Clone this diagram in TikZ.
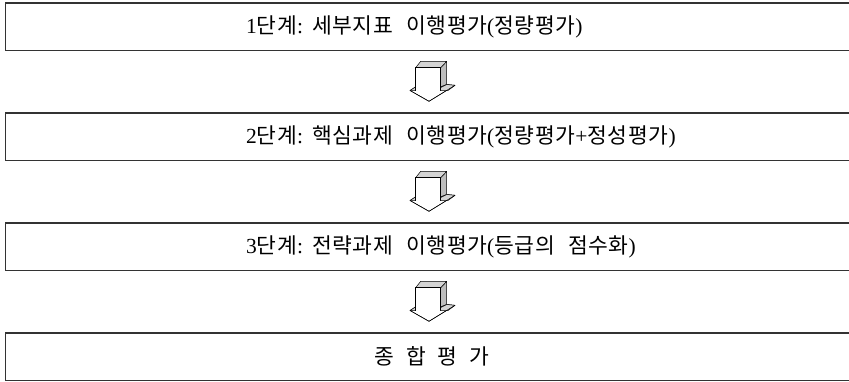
\documentclass[tikz,border=0pt]{standalone}
\usepackage{fontspec}
\setmainfont{Liberation Serif}
\newfontfamily\kr[LetterSpace=3]{Noto Sans CJK KR}
\newcommand{\colgap}{\hspace{9pt}}
\newcommand{\wordgap}{\hspace{13pt}}
\definecolor{boxline}{HTML}{333333}
\definecolor{facegray}{HTML}{D4D4D4}
\definecolor{sidegray}{HTML}{BDBDBD}
\tikzset{
  stagebox/.style={draw=boxline, line width=1.4pt},
  stagetext/.style={font=\fontsize{21.5}{25}\selectfont, inner sep=0pt, anchor=west},
  arrowline/.style={draw=black, line width=0.5pt, line join=round},
  pics/downarrow/.style={code={
    % side face
    \filldraw[arrowline, fill=sidegray] (440.7,67.7) -- (446.7,61.3) -- (446.7,84.5) -- (440.7,87.5) -- cycle;
    % top face
    \filldraw[arrowline, fill=facegray] (415.7,67.7) -- (420.7,61.3) -- (446.7,61.3) -- (440.7,67.7) -- cycle;
    % head surfaces
    \filldraw[arrowline, fill=white] (410,90.5) -- (415.7,86.8) -- (440.7,86.8) -- (446.7,84.5) -- (455,85.3) -- (429,101.3) -- cycle;
    \filldraw[arrowline, fill=facegray] (410,90.5) -- (415.7,86.8) -- (415.7,90.5) -- cycle;
    \filldraw[arrowline, fill=facegray] (440.7,87.5) -- (446.7,84.5) -- (455,85.3) -- (448,90.5) -- (440.7,90.5) -- cycle;
    % front face of shaft
    \filldraw[arrowline, fill=white] (415.7,67.7) rectangle (440.7,90.5);
    \draw[white, line width=0.8pt] (416,90.5) -- (440.4,90.5);
    \draw[arrowline] (410,90.5) -- (429,101.3) -- (455,85.3);
  }}
}
\begin{document}
\begin{tikzpicture}[x=1pt, y=-1pt]
\useasboundingbox (0,0) rectangle (849,382);
\fill[white] (0,0) rectangle (849,382);

\draw[stagebox] (5.7,3) rectangle (852,50.5);
\draw[stagebox] (5.7,113) rectangle (852,160.5);
\draw[stagebox] (5.7,223) rectangle (852,270.5);
\draw[stagebox] (5.7,333) rectangle (852,380.5);

\node[stagetext] (s1) at (246,26.5) {1{\kr 단계}:\colgap{\kr 세부지표}\wordgap{\kr 이행평가}({\kr 정량평가})};
\node[stagetext] (s2) at (246,136.5) {2{\kr 단계}:\colgap{\kr 핵심과제}\wordgap{\kr 이행평가}({\kr 정량평가}+{\kr 정성평가})};
\node[stagetext] (s3) at (246,246.5) {3{\kr 단계}:\colgap{\kr 전략과제}\wordgap{\kr 이행평가}({\kr 등급의}\wordgap{\kr 점수화})};
\node[stagetext, anchor=center] (s4) at (432,356.5) {\kr 종\hspace{12pt}합\hspace{12pt}평\hspace{12pt}가};

\pic at (0,0) {downarrow};
\pic at (0,110) {downarrow};
\pic at (0,220) {downarrow};
\end{tikzpicture}
\end{document}
